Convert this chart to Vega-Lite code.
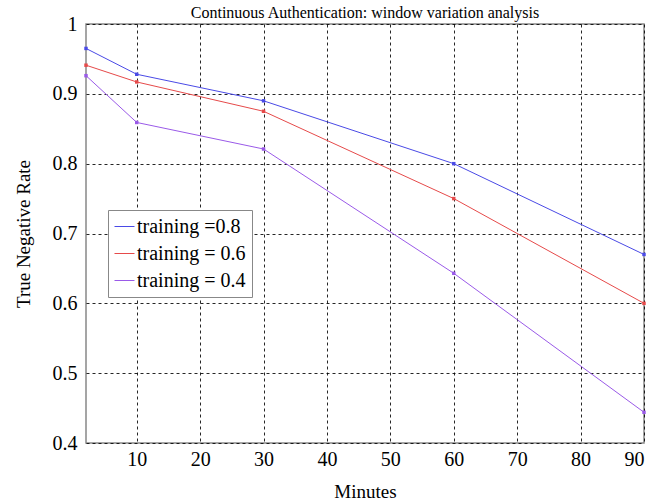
{
  "$schema": "https://vega.github.io/schema/vega-lite/v6.json",
  "autosize": {"type": "none"},
  "padding": {"left": 86, "top": 24, "right": 23, "bottom": 59},
  "width": 558,
  "height": 419,
  "background": "white",
  "title": {
    "text": "Continuous Authentication: window variation analysis",
    "font": "Liberation Serif",
    "fontSize": 16,
    "fontWeight": "normal",
    "color": "black",
    "anchor": "middle",
    "offset": 0,
    "dy": 7
  },
  "data": {
    "values": [
      {"minutes": 2, "tnr": 0.965, "series": "training =0.8"},
      {"minutes": 10, "tnr": 0.928, "series": "training =0.8"},
      {"minutes": 30, "tnr": 0.89, "series": "training =0.8"},
      {"minutes": 60, "tnr": 0.8, "series": "training =0.8"},
      {"minutes": 90, "tnr": 0.67, "series": "training =0.8"},
      {"minutes": 2, "tnr": 0.941, "series": "training = 0.6"},
      {"minutes": 10, "tnr": 0.917, "series": "training = 0.6"},
      {"minutes": 30, "tnr": 0.875, "series": "training = 0.6"},
      {"minutes": 60, "tnr": 0.75, "series": "training = 0.6"},
      {"minutes": 90, "tnr": 0.6, "series": "training = 0.6"},
      {"minutes": 2, "tnr": 0.926, "series": "training = 0.4"},
      {"minutes": 10, "tnr": 0.859, "series": "training = 0.4"},
      {"minutes": 30, "tnr": 0.821, "series": "training = 0.4"},
      {"minutes": 60, "tnr": 0.643, "series": "training = 0.4"},
      {"minutes": 90, "tnr": 0.444, "series": "training = 0.4"}
    ]
  },
  "encoding": {
    "x": {
      "field": "minutes",
      "type": "quantitative",
      "scale": {"domain": [2, 90], "nice": false, "zero": false},
      "axis": {
        "title": "Minutes",
        "values": [10, 20, 30, 40, 50, 60, 70, 80, 90],
        "ticks": false,
        "domain": false,
        "labelPadding": 6,
        "titlePadding": 13,
        "labelFontSize": 20,
        "titleFontSize": 19,
        "gridColor": "black",
        "gridDash": [3, 3],
        "gridOpacity": 0.85,
        "gridWidth": 1
      }
    },
    "y": {
      "field": "tnr",
      "type": "quantitative",
      "scale": {"domain": [0.4, 1], "nice": false, "zero": false},
      "axis": {
        "title": "True Negative Rate",
        "values": [0.4, 0.5, 0.6, 0.7, 0.8, 0.9, 1],
        "format": ".1~f",
        "ticks": false,
        "domain": false,
        "labelPadding": 9,
        "titlePadding": 19,
        "labelFontSize": 20,
        "titleFontSize": 19,
        "gridColor": "black",
        "gridDash": [3, 3],
        "gridOpacity": 0.85,
        "gridWidth": 1
      }
    }
  },
  "layer": [
    {
      "mark": {"type": "line", "strokeWidth": 1},
      "encoding": {
        "color": {
          "field": "series",
          "type": "nominal",
          "sort": ["training =0.8", "training = 0.6", "training = 0.4"],
          "scale": {
            "domain": ["training =0.8", "training = 0.6", "training = 0.4"],
            "range": ["#4a4ae6", "#e64a4a", "#9a5ae8"]
          },
          "legend": {
            "title": null,
            "orient": "none",
            "legendX": 22,
            "legendY": 186,
            "symbolType": "stroke",
            "symbolSize": 400,
            "symbolStrokeWidth": 1,
            "labelFontSize": 20,
            "labelFont": "Liberation Serif",
            "labelColor": "black",
            "rowPadding": 6,
            "labelOffset": 2,
            "padding": 6,
            "strokeColor": "#888888",
            "fillColor": "white"
          }
        }
      }
    },
    {
      "mark": {"type": "square", "size": 12, "opacity": 1, "filled": true},
      "encoding": {
        "color": {
          "field": "series",
          "type": "nominal",
          "legend": null
        }
      }
    }
  ],
  "config": {
    "font": "Liberation Serif",
    "axis": {
      "labelFont": "Liberation Serif",
      "titleFont": "Liberation Serif",
      "labelColor": "black",
      "titleColor": "black",
      "titleFontWeight": "normal"
    },
    "view": {"stroke": "#888888", "strokeWidth": 1.5}
  }
}
